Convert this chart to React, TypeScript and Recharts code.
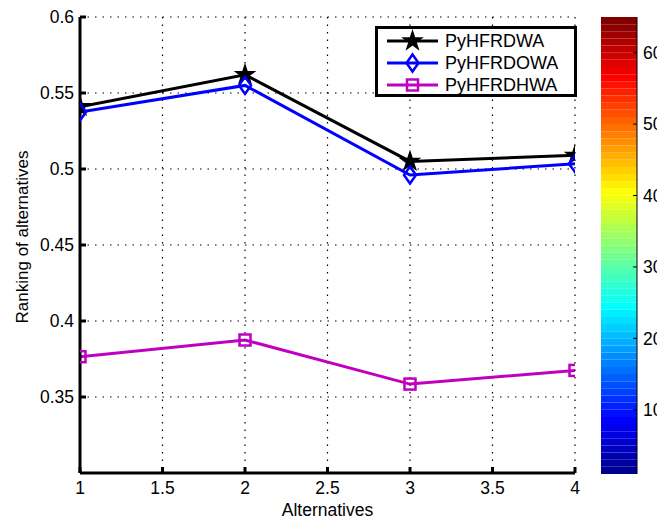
import React from 'react';
import { LineChart, Line, XAxis, YAxis, CartesianGrid, Legend, BarChart, Bar } from 'recharts';

const alternatives = [1, 2, 3, 4];
const pyHFRDWA = [0.541, 0.562, 0.505, 0.509];
const pyHFRDOWA = [0.5375, 0.555, 0.496, 0.5035];
const pyHFRDHWA = [0.3765, 0.3875, 0.3585, 0.3675];
const seriesNames = ['PyHFRDWA', 'PyHFRDOWA', 'PyHFRDHWA'];
const xTicks = [1, 1.5, 2, 2.5, 3, 3.5, 4];
const yTicks = [0.35, 0.4, 0.45, 0.5, 0.55, 0.6];
const colorbarTicks = [10, 20, 30, 40, 50, 60];
const colorbarLevels = [
  1, 2, 3, 4, 5, 6, 7, 8, 9, 10, 11, 12, 13, 14, 15, 16,
  17, 18, 19, 20, 21, 22, 23, 24, 25, 26, 27, 28, 29, 30, 31, 32,
  33, 34, 35, 36, 37, 38, 39, 40, 41, 42, 43, 44, 45, 46, 47, 48,
  49, 50, 51, 52, 53, 54, 55, 56, 57, 58, 59, 60, 61, 62, 63, 64,
];

const FONT = '"Liberation Sans", Arial, Helvetica, sans-serif';

const data = alternatives.map((x, i) => ({
  x,
  PyHFRDWA: pyHFRDWA[i],
  PyHFRDOWA: pyHFRDOWA[i],
  PyHFRDHWA: pyHFRDHWA[i],
}));

// MATLAB jet colormap
function jet(m: number): string[] {
  const n = Math.ceil(m / 4);
  const u: number[] = [];
  for (let i = 1; i <= n; i++) u.push(i / n);
  for (let i = 1; i <= n - 1; i++) u.push(1);
  for (let i = n; i >= 1; i--) u.push(i / n);
  const base = Math.ceil(n / 2) - (m % 4 === 1 ? 1 : 0);
  const g0 = u.map((_, i) => base + i + 1);
  const r = g0.map((v) => v + n).filter((v) => v <= m);
  const g = g0.filter((v) => v <= m);
  const b = g0.map((v) => v - n).filter((v) => v >= 1);
  const J = Array.from({ length: m }, () => [0, 0, 0]);
  r.forEach((idx, i) => (J[idx - 1][0] = u[i]));
  g.forEach((idx, i) => (J[idx - 1][1] = u[i]));
  b.forEach((idx, i) => (J[idx - 1][2] = u[u.length - b.length + i]));
  return J.map(([rr, gg, bb]) => `rgb(${Math.round(rr * 255)},${Math.round(gg * 255)},${Math.round(bb * 255)})`);
}
const jetColors = jet(colorbarLevels.length);

const colorRow: Record<string, number | string> = { name: 'cb', base: colorbarLevels[0] };
colorbarLevels.forEach((lv) => {
  colorRow['l' + lv] = 1;
});

function starPoints(cx: number, cy: number, R: number) {
  const r = R * 0.382;
  const pts: string[] = [];
  for (let k = 0; k < 10; k++) {
    const a = -Math.PI / 2 + (k * Math.PI) / 5;
    const rad = k % 2 === 0 ? R : r;
    pts.push(`${cx + rad * Math.cos(a)},${cy + rad * Math.sin(a)}`);
  }
  return pts.join(' ');
}

function Marker({ kind, cx, cy }: { kind: string; cx: number; cy: number }) {
  if (kind === 'PyHFRDWA') {
    return <polygon points={starPoints(cx, cy, 9.5)} fill="#000" stroke="#000" strokeWidth={1.5} strokeLinejoin="miter" />;
  }
  if (kind === 'PyHFRDOWA') {
    return (
      <polygon
        points={`${cx},${cy - 8.5} ${cx + 6},${cy} ${cx},${cy + 8.5} ${cx - 6},${cy}`}
        fill="none"
        stroke="#0000ff"
        strokeWidth={2.5}
      />
    );
  }
  return <rect x={cx - 5.5} y={cy - 5.5} width={11} height={11} fill="none" stroke="#c000c0" strokeWidth={2.5} />;
}

const makeDot = (kind: string) => (props: any) => {
  const { cx, cy, index } = props;
  if (cx == null || cy == null) return <g key={`${kind}-${index}`} />;
  return (
    <g key={`${kind}-${index}`}>
      <Marker kind={kind} cx={cx} cy={cy} />
    </g>
  );
};

const LegendBox = (props: any) => {
  const payload = [...(props.payload || [])].sort(
    (a: any, b: any) => seriesNames.indexOf(a.value) - seriesNames.indexOf(b.value)
  );
  return (
    <svg width={202} height={71} style={{ display: 'block' }}>
      <rect x={1.5} y={1.5} width={199} height={68} fill="#fff" stroke="#000" strokeWidth={3} />
      {payload.map((p: any, i: number) => {
        const cy = 15 + i * 22;
        return (
          <g key={p.value}>
            <line x1={12} x2={63} y1={cy} y2={cy} stroke={p.color} strokeWidth={3} />
            <Marker kind={p.value} cx={37.5} cy={cy} />
            <text x={70} y={cy} dy="0.36em" fontSize={18} fontFamily={FONT} fill="#000">
              {p.value}
            </text>
          </g>
        );
      })}
    </svg>
  );
};

const YLabel = (props: any) => {
  const vb = props.viewBox || { y: 17, height: 456 };
  const cy = vb.y + vb.height / 2 - 8;
  return (
    <text
      x={22}
      y={cy}
      transform={`rotate(-90 22 ${cy})`}
      textAnchor="middle"
      dominantBaseline="central"
      fontSize={17}
      fontFamily={FONT}
      fill="#000"
    >
      Ranking of alternatives
    </text>
  );
};

const XLabel = (props: any) => {
  const vb = props.viewBox || { x: 80, width: 495 };
  const cx = vb.x + vb.width / 2;
  return (
    <text x={cx} y={516} textAnchor="middle" fontSize={17.5} fontFamily={FONT} fill="#000">
      Alternatives
    </text>
  );
};

const tickStyle = { fill: '#000', fontSize: 17.5, fontFamily: FONT };
const frame = { stroke: '#000', strokeWidth: 3 };

export default function App() {
  return (
    <div style={{ position: 'absolute', left: 0, top: 0, width: 657, height: 520, background: '#fff', fontFamily: FONT }}>
      <LineChart width={657} height={520} data={data} margin={{ top: 17, right: 82, bottom: 0, left: 0 }}>
        <CartesianGrid stroke="#000" strokeWidth={1.2} strokeDasharray="1.5 6" />
        <XAxis
          dataKey="x"
          type="number"
          domain={[1, 4]}
          ticks={xTicks}
          allowDataOverflow
          height={47}
          tickSize={-6}
          tickMargin={15}
          tick={tickStyle}
          tickLine={{ stroke: '#000', strokeWidth: 3 }}
          axisLine={frame}
          label={<XLabel />}
        />
        <XAxis
          xAxisId="top"
          orientation="top"
          type="number"
          domain={[1, 4]}
          ticks={xTicks}
          allowDataOverflow
          height={0}
          tickSize={-6}
          tickFormatter={() => ''}
          tickLine={{ stroke: '#000', strokeWidth: 3 }}
          axisLine={frame}
        />
        <YAxis
          type="number"
          domain={[0.3, 0.6]}
          ticks={yTicks}
          allowDataOverflow
          width={80}
          tickSize={-6}
          tickMargin={12}
          tick={tickStyle}
          tickLine={{ stroke: '#000', strokeWidth: 3 }}
          axisLine={frame}
          label={<YLabel />}
        />
        <YAxis
          yAxisId="right"
          orientation="right"
          type="number"
          domain={[0.3, 0.6]}
          ticks={yTicks}
          allowDataOverflow
          width={0}
          tickSize={-6}
          tickFormatter={() => ''}
          tickLine={{ stroke: '#000', strokeWidth: 3 }}
          axisLine={frame}
        />
        <Line dataKey="PyHFRDWA" name="PyHFRDWA" stroke="#000" strokeWidth={3} dot={makeDot('PyHFRDWA')} activeDot={false} isAnimationActive={false} />
        <Line dataKey="PyHFRDOWA" name="PyHFRDOWA" stroke="#0000ff" strokeWidth={3} dot={makeDot('PyHFRDOWA')} activeDot={false} isAnimationActive={false} />
        <Line dataKey="PyHFRDHWA" name="PyHFRDHWA" stroke="#c000c0" strokeWidth={3} dot={makeDot('PyHFRDHWA')} activeDot={false} isAnimationActive={false} />
        <Legend
          layout="horizontal"
          verticalAlign="middle"
          align="center"
          content={<LegendBox />}
          wrapperStyle={{ position: 'absolute', left: 375, top: 26, width: 202, height: 71 }}
        />
      </LineChart>
      <div style={{ position: 'absolute', left: 601, top: 0 }}>
        <BarChart width={56} height={520} data={[colorRow]} margin={{ top: 17, right: 0, bottom: 46, left: 0 }} barCategoryGap={0} barGap={0}>
          <XAxis dataKey="name" height={0} tick={false} tickLine={false} axisLine={{ stroke: '#000', strokeWidth: 1 }} />
          <XAxis xAxisId="top" dataKey="name" orientation="top" height={0} tick={false} tickLine={false} axisLine={{ stroke: '#000', strokeWidth: 1 }} />
          <YAxis
            yAxisId="cb"
            orientation="right"
            type="number"
            domain={[1, 65]}
            ticks={colorbarTicks}
            allowDataOverflow
            width={20}
            tickSize={-4}
            tickMargin={10}
            tick={tickStyle}
            tickLine={{ stroke: '#000' }}
            axisLine={{ stroke: '#000' }}
          />
          <YAxis
            yAxisId="cbl"
            orientation="left"
            type="number"
            domain={[1, 65]}
            ticks={colorbarTicks}
            allowDataOverflow
            width={0}
            tickSize={-4}
            tickFormatter={() => ''}
            tickLine={{ stroke: '#000' }}
            axisLine={{ stroke: '#000' }}
          />
          <Bar dataKey="base" yAxisId="cb" stackId="s" fill="none" isAnimationActive={false} />
          {colorbarLevels.map((lv, i) => (
            <Bar key={lv} dataKey={'l' + lv} yAxisId="cb" stackId="s" fill={jetColors[i]} isAnimationActive={false} />
          ))}
        </BarChart>
      </div>
    </div>
  );
}
